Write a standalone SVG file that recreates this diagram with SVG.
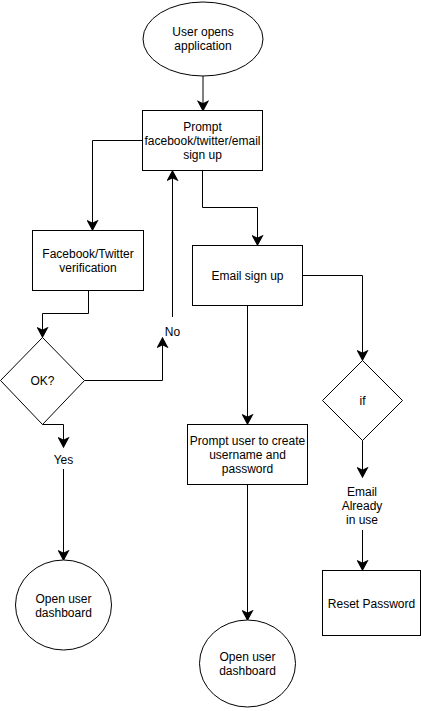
<svg xmlns="http://www.w3.org/2000/svg" width="421" height="711" viewBox="0 0 421 711">
<style>
.s{fill:#fff;stroke:#000;stroke-width:1}
.e{fill:none;stroke:#000;stroke-width:1}
text{font-family:"Liberation Sans",Arial,sans-serif;font-size:12px;fill:#000;text-anchor:middle}
</style>
<defs>
<marker id="a" markerUnits="userSpaceOnUse" markerWidth="12" markerHeight="12" viewBox="-8 -5 9 10" refX="0" refY="0" orient="auto">
<path d="M0,0 L-7.5,-4 L-5.5,0 L-7.5,4 Z" fill="#000" stroke="#000" stroke-width="1"/>
</marker>
</defs>
<rect width="421" height="711" fill="#fff"/>
<g id="connectors">
<path class="e" d="M203,76 L203,110.5" marker-end="url(#a)"/>
<path class="e" d="M142.5,140.5 L92.5,140.5 L92.5,230" marker-end="url(#a)"/>
<path class="e" d="M202.5,170.5 L202.5,207.5 L257.5,207.5 L257.5,245" marker-end="url(#a)"/>
<path class="e" d="M88.5,290.5 L88.5,313.5 L42.5,313.5 L42.5,337" marker-end="url(#a)"/>
<path class="e" d="M84.5,380.5 L162.5,380.5 L162.5,338" marker-end="url(#a)"/>
<path class="e" d="M172.5,317 L172.5,171" marker-end="url(#a)"/>
<path class="e" d="M42.5,424.5 L63.5,424.5 L63.5,447" marker-end="url(#a)"/>
<path class="e" d="M63.5,469 L63.5,560" marker-end="url(#a)"/>
<path class="e" d="M302.5,275.5 L362.5,275.5 L362.5,360" marker-end="url(#a)"/>
<path class="e" d="M247.5,305.5 L247.5,424" marker-end="url(#a)"/>
<path class="e" d="M247.5,484.5 L247.5,620" marker-end="url(#a)"/>
<path class="e" d="M362.5,440.5 L362.5,477" marker-end="url(#a)"/>
<path class="e" d="M362.5,530 L362.5,570" marker-end="url(#a)"/>
</g>
<g id="start">
<ellipse class="s" cx="203" cy="39" rx="60" ry="37"/>
<text x="203" y="36">User opens</text>
<text x="203" y="50">application</text>
</g>
<g id="prompt">
<rect class="s" x="142.5" y="110.5" width="120" height="60"/>
<text x="202.5" y="131">Prompt</text>
<text x="202.5" y="145">facebook/twitter/email</text>
<text x="202.5" y="159">sign up</text>
</g>
<g id="fbverify">
<rect class="s" x="32.5" y="230.5" width="111" height="60"/>
<text x="88" y="258">Facebook/Twitter</text>
<text x="88" y="272">verification</text>
</g>
<g id="ok">
<polygon class="s" points="42.5,337.5 84.5,380.5 42.5,424.5 0.5,380.5"/>
<text x="42.5" y="385">OK?</text>
</g>
<g id="no">
<text x="172.5" y="336">No</text>
</g>
<g id="yes">
<text x="63.5" y="463.5">Yes</text>
</g>
<g id="dash1">
<ellipse class="s" cx="63.5" cy="605" rx="48" ry="45"/>
<text x="63.5" y="603">Open user</text>
<text x="63.5" y="617">dashboard</text>
</g>
<g id="email">
<rect class="s" x="192.5" y="245.5" width="110" height="60"/>
<text x="247.5" y="280">Email sign up</text>
</g>
<g id="promptuser">
<rect class="s" x="187.5" y="424.5" width="120" height="60"/>
<text x="247.5" y="445">Prompt user to create</text>
<text x="247.5" y="459">username and</text>
<text x="247.5" y="473">password</text>
</g>
<g id="dash2">
<ellipse class="s" cx="247.5" cy="663.5" rx="48" ry="43.5"/>
<text x="247.5" y="661">Open user</text>
<text x="247.5" y="675">dashboard</text>
</g>
<g id="if">
<polygon class="s" points="362.5,360.5 402.5,400.5 362.5,440.5 322.5,400.5"/>
<text x="362.5" y="405">if</text>
</g>
<g id="inuse">
<text x="362" y="496">Email</text>
<text x="362" y="510">Already</text>
<text x="362" y="524">in use</text>
</g>
<g id="reset">
<rect class="s" x="322.5" y="570.5" width="98" height="65"/>
<text x="371.5" y="608">Reset Password</text>
</g>
</svg>
